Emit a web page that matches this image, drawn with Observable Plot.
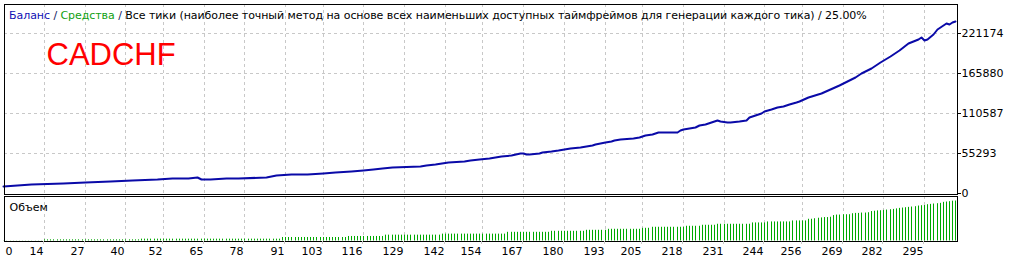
<!DOCTYPE html>
<html>
<head>
<meta charset="utf-8">
<script src="https://cdn.jsdelivr.net/npm/d3@7"></script>
<script src="https://cdn.jsdelivr.net/npm/@observablehq/plot@0.6"></script>
<style>
  html, body { margin: 0; padding: 0; background: #fff; }
  #wrap { position: relative; width: 1012px; height: 261px; background: #fff; overflow: hidden; }
  #main, #vol { position: absolute; left: 0; }
  #main { top: 0; }
  #vol { top: 194px; }
  #main svg { overflow: visible; }
  #title { position: absolute; left: 9px; top: 8.5px; font-family: "DejaVu Sans"; font-size: 11px; letter-spacing: -0.06px; line-height: 13px; white-space: nowrap; color: #000; }
  #sym { position: absolute; left: 46.5px; top: 36.7px; font-family: "Liberation Sans"; font-size: 31px; line-height: 35px; color: #ff0000; white-space: nowrap; }
  svg { display: block; }
</style>
</head>
<body>
<div id="wrap">
  <div id="main"></div>
  <div id="vol"></div>
  <div id="title"></div>
  <div id="sym"></div>
</div>
<script>
// ---- data ----
const symbol = "CADCHF";
const titleParts = [
  { text: "Баланс", color: "#1010b4" },
  { text: " / ", color: "#102060" },
  { text: "Средства", color: "#10a010" },
  { text: " / ", color: "#102060" },
  { text: "Все тики (наиболее точный метод на основе всех наименьших доступных таймфреймов для генерации каждого тика) / 25.00%", color: "#000000" }
];
const volumeLabel = "Объем";

const xTickLabels = ["0","14","27","40","52","65","78","91","103","116","129","142","154","167","180","193","205","218","231","244","256","269","282","295"];
const yTickValues = [0, 55293, 110587, 165880, 221174];

// balance curve: trade number -> balance
const tradeIdx = [1,10,20,27,35,42,50,55,60,63,64,67,72,73,74,76,85,88,93,98,103,107,112,116,119,122,125,134,136,139,143,148,150,153,156,158,160,163,166,167,168,169,172,173,176,178,180,182,185,187,189,190,193,195,196,198,202,204,206,208,210,216,217,218,220,222,223,225,226,228,229,230,232,233,236,238,239,241,243,244,246,248,250,251,252,254,255,258,262,265,268,271,273,275,278,281,284,287,290,293,294,295,296,298,299,301,302,303,304,305];
const balance = [10000,12400,13800,14700,16000,17400,18800,20200,21300,21600,19100,19900,20500,21300,20300,21300,22700,24600,26000,26800,27800,29200,30500,31900,33300,34700,36100,37500,38800,40200,42200,44600,46000,47400,48800,50200,51600,53200,54900,55800,53400,54300,55700,57100,58500,59600,61000,62300,64000,65400,66800,68400,70400,72300,73700,74600,75800,78100,79800,81100,83900,85000,86800,88600,90300,91900,94100,95500,97200,99300,100900,99900,98300,98800,99900,101600,105500,108200,111000,114000,116500,118200,120000,122100,123400,125500,127600,133100,138600,144200,149700,155900,160800,165600,172500,181100,189800,198100,207100,213300,215600,211900,213300,220200,226400,232000,234700,233300,236800,238200];

// volume (lots) per trade 1..305
const volumes = [
0.01,0.01,0.01,0.01,0.01,0.01,0.01,0.01,0.01,0.01,
0.01,0.01,0.01,0.07,0.07,0.07,0.07,0.07,0.07,0.07,
0.07,0.07,0.07,0.07,0.07,0.07,0.07,0.07,0.07,0.07,
0.07,0.07,0.07,0.07,0.07,0.07,0.07,0.07,0.07,0.07,
0.07,0.07,0.07,0.07,0.11,0.11,0.11,0.11,0.11,0.11,
0.11,0.11,0.11,0.11,0.11,0.11,0.11,0.11,0.11,0.11,
0.11,0.11,0.11,0.11,0.11,0.11,0.11,0.11,0.11,0.11,
0.11,0.11,0.11,0.11,0.11,0.11,0.11,0.11,0.11,0.11,
0.11,0.11,0.11,0.11,0.11,0.11,0.11,0.11,0.11,0.21,
0.21,0.21,0.21,0.21,0.21,0.21,0.21,0.21,0.21,0.21,
0.21,0.21,0.21,0.21,0.21,0.21,0.21,0.21,0.21,0.21,
0.27,0.27,0.27,0.27,0.27,0.27,0.27,0.27,0.27,0.27,
0.27,0.27,0.35,0.35,0.35,0.35,0.35,0.35,0.35,0.35,
0.35,0.35,0.35,0.35,0.35,0.35,0.35,0.35,0.35,0.35,
0.41,0.41,0.41,0.41,0.41,0.41,0.41,0.41,0.41,0.41,
0.41,0.41,0.41,0.41,0.41,0.41,0.41,0.41,0.41,0.41,
0.41,0.52,0.52,0.52,0.52,0.52,0.52,0.52,0.52,0.52,
0.52,0.52,0.52,0.52,0.52,0.58,0.58,0.58,0.58,0.58,
0.58,0.58,0.58,0.58,0.58,0.58,0.64,0.64,0.64,0.64,
0.64,0.64,0.64,0.70,0.70,0.70,0.70,0.70,0.70,0.70,
0.70,0.70,0.70,0.70,0.76,0.76,0.76,0.82,0.82,0.82,
0.82,0.82,0.82,0.82,0.82,0.82,0.82,0.82,0.88,0.88,
0.88,0.88,0.88,0.94,0.94,0.94,0.94,0.94,1.00,1.00,
1.00,1.00,1.00,1.00,1.00,1.00,1.00,1.00,1.00,1.08,
1.08,1.08,1.08,1.08,1.14,1.14,1.14,1.14,1.14,1.14,
1.14,1.14,1.20,1.20,1.20,1.20,1.20,1.30,1.30,1.33,
1.36,1.38,1.40,1.40,1.42,1.52,1.55,1.55,1.57,1.57,
1.57,1.63,1.65,1.65,1.67,1.67,1.69,1.76,1.78,1.80,
1.81,1.83,1.85,1.87,1.89,1.92,1.95,1.97,1.99,2.01,
2.03,2.05,2.09,2.11,2.12,2.17,2.19,2.21,2.23,2.25,
2.31,2.33,2.35,2.38,2.39
];

// ---- build ----
const balanceData = tradeIdx.map((t, k) => ({ t, v: balance[k] }));
const volData = volumes.map((v, k) => ({ t: k + 1, v }));
const xTicks = xTickLabels.slice(1).map(Number);
const xDomain = [1.2, 305.5];
const gridStyle = { stroke: "#c8c8c8", strokeOpacity: 1, strokeDasharray: "3,3" };
const font = { fontFamily: "DejaVu Sans", fontSize: "11px", background: "transparent", color: "#000", overflow: "visible" };

const main = Plot.plot({
  width: 1012, height: 196,
  marginLeft: 4, marginRight: 55, marginTop: 4, marginBottom: 2,
  style: font,
  x: { domain: xDomain, range: [3.9, 956.9], round: true, axis: null, label: null },
  y: { domain: [0, 261262], range: [193, 4], round: true, label: null },
  marks: [
    Plot.gridX(xTicks, gridStyle),
    Plot.gridY(yTickValues.slice(1), gridStyle),
    Plot.axisY(yTickValues, { anchor: "right", tickSize: 3, tickPadding: 1, tickFormat: d => String(d), stroke: "#000", fill: "#000", label: null }),
    Plot.line(balanceData, { x: "t", y: "v", stroke: "#0a0aa8", strokeWidth: 2 }),
    Plot.frame({ stroke: "#000" })
  ]
});
document.getElementById("main").appendChild(main);

const vol = Plot.plot({
  width: 1012, height: 67,
  marginLeft: 4, marginRight: 55, marginTop: 2, marginBottom: 20,
  style: font,
  x: { domain: xDomain, range: [3.9, 956.9], round: true, label: null },
  y: { domain: [0, 2.6], range: [46.5, 3], axis: null, label: null },
  marks: [
    Plot.gridX(xTicks, gridStyle),
    Plot.ruleX(volData, { x: "t", y1: 0, y2: "v", stroke: "#00a800", strokeWidth: 1 }),
    Plot.frame({ stroke: "#000" }),
    Plot.axisX(xTicks, { anchor: "bottom", tickSize: 3, tickPadding: 3, textAnchor: "end", dx: -1, tickFormat: d => String(d), stroke: "#c8c8c8", fill: "#000", label: null }),
    Plot.axisX([xDomain[0]], { anchor: "bottom", tickSize: 0, tickPadding: 6, textAnchor: "start", dx: 1, tickFormat: () => xTickLabels[0], fill: "#000", label: null }),
    Plot.text([volumeLabel], { text: d => d, frameAnchor: "top-left", dx: 5, dy: 6.7, fill: "#000" })
  ]
});
document.getElementById("vol").appendChild(vol);

const title = document.getElementById("title");
for (const p of titleParts) {
  const s = document.createElement("span");
  s.textContent = p.text;
  s.style.color = p.color;
  title.appendChild(s);
}
document.getElementById("sym").textContent = symbol;
</script>
</body>
</html>
